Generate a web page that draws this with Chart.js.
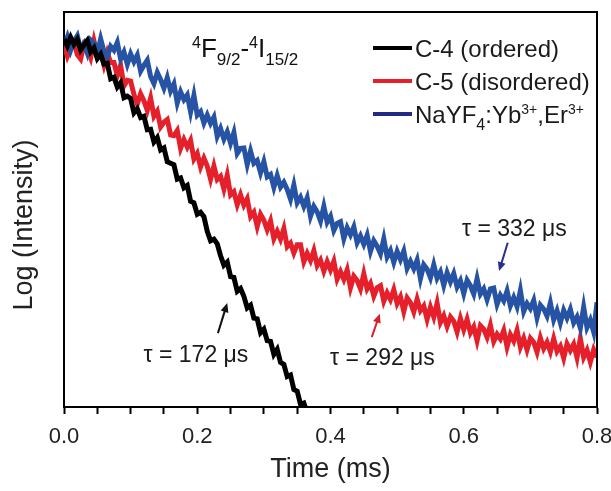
<!DOCTYPE html>
<html>
<head>
<meta charset="utf-8">
<script src="https://cdn.jsdelivr.net/npm/chart.js@4.4.1/dist/chart.umd.min.js"></script>
<style>
  html, body { margin: 0; padding: 0; background: #fff; }
  #wrap { width: 611px; height: 491px; }
</style>
</head>
<body>
<div id="wrap"><canvas id="decay" width="611" height="491"></canvas></div>
<script>
// sampling step of the decay traces, in ms (first sample at t = 0)
const step = 0.005;
const xTicks = [0.0, 0.2, 0.4, 0.6, 0.8];
const seriesNames = ['C-4 (ordered)', 'C-5 (disordered)', 'NaYF4:Yb3+,Er3+'];

// log intensity (arbitrary units, 0 = bottom of frame, 100 = top)
const c4 = [
  93.2, 91.4, 93.6, 91.8, 93.1, 90.4, 91.7, 92.8, 89.9, 90.9,
  88.2, 89.3, 86.8, 87.0, 83.1, 83.5, 81.0, 82.1, 78.3, 78.7,
  78.1, 74.5, 75.5, 73.3, 73.6, 70.2, 70.3, 67.1, 68.2, 65.1,
  65.6, 62.1, 61.7, 61.3, 57.7, 58.0, 55.5, 56.1, 52.1, 51.7,
  48.8, 49.3, 48.2, 44.5, 42.1, 42.5, 41.3, 38.3, 35.9, 36.7,
  33.0, 32.8, 29.3, 30.0, 28.0, 25.1, 25.8, 22.5, 22.3, 18.8,
  19.7, 16.8, 16.6, 13.3, 14.6, 11.3, 10.8, 7.7, 8.1, 4.4,
  4.0, 0.7, 1.0, -1.5, -3.0
];
const c5 = [
  91.6, 88.8, 90.9, 92.4, 89.2, 88.1, 91.7, 90.6, 88.4, 92.7,
  89.1, 90.1, 86.6, 89.7, 87.2, 87.2, 83.9, 86.5, 81.3, 82.7,
  82.5, 79.1, 76.7, 79.3, 77.5, 75.1, 78.2, 73.6, 74.9, 70.9,
  72.1, 72.8, 68.9, 68.7, 70.0, 65.5, 67.7, 65.8, 67.5, 62.8,
  64.2, 60.8, 63.0, 61.0, 57.7, 61.0, 57.6, 58.4, 55.2, 58.7,
  53.7, 54.5, 51.2, 53.7, 51.1, 52.7, 48.2, 49.3, 45.7, 48.8,
  47.3, 44.9, 47.1, 42.6, 44.5, 42.5, 45.2, 40.6, 41.5, 39.0,
  41.1, 41.1, 36.8, 38.9, 37.1, 39.6, 35.8, 37.2, 34.4, 36.8,
  34.7, 36.9, 32.4, 34.3, 32.3, 34.7, 30.2, 33.1, 32.0, 29.9,
  33.7, 29.9, 31.3, 28.1, 30.2, 30.7, 26.8, 28.9, 27.2, 29.7,
  26.2, 27.9, 24.2, 27.6, 26.4, 24.1, 27.3, 24.4, 25.6, 22.2,
  25.3, 22.8, 26.3, 21.4, 23.1, 20.4, 22.8, 21.7, 19.0, 22.4,
  19.6, 22.2, 18.8, 20.3, 16.8, 20.6, 19.7, 17.7, 20.7, 16.6,
  18.4, 17.2, 19.4, 15.2, 18.3, 16.7, 19.4, 15.2, 17.4, 14.5,
  17.4, 16.4, 13.9, 17.5, 14.8, 16.4, 14.0, 17.3, 14.1, 15.4,
  12.4, 16.0, 14.3, 15.9, 12.5, 17.4, 12.6, 14.4, 11.4, 14.5,
  12.6
];
const nayf = [
  91.3, 93.6, 90.3, 92.6, 94.0, 90.6, 92.0, 89.6, 92.9, 92.1,
  89.6, 93.2, 90.0, 88.6, 91.3, 90.3, 92.3, 88.1, 89.9, 86.8,
  89.4, 87.4, 89.1, 85.0, 86.5, 87.8, 83.7, 81.9, 84.7, 82.9,
  80.7, 83.4, 80.0, 81.8, 77.0, 79.8, 77.8, 79.0, 74.7, 78.9,
  73.9, 74.8, 71.9, 73.9, 71.8, 73.4, 68.5, 70.5, 67.8, 69.7,
  66.8, 69.5, 64.2, 65.5, 65.6, 61.4, 64.8, 61.7, 62.4, 59.3,
  62.1, 58.3, 58.9, 55.6, 58.6, 55.7, 56.9, 55.1, 52.6, 56.2,
  51.7, 53.1, 50.8, 53.0, 48.3, 50.8, 49.4, 47.1, 50.8, 46.8,
  48.3, 44.7, 46.5, 46.9, 42.6, 45.4, 43.6, 45.6, 41.6, 43.3,
  41.2, 43.5, 39.4, 42.1, 40.7, 38.8, 42.6, 38.0, 39.6, 36.6,
  39.4, 37.3, 39.5, 35.1, 36.9, 35.0, 37.2, 32.5, 36.0, 34.9,
  32.7, 36.0, 32.6, 34.2, 30.8, 34.0, 31.7, 33.8, 30.4, 32.0,
  28.7, 32.1, 30.7, 28.6, 32.5, 28.6, 29.9, 27.2, 29.9, 30.1,
  26.0, 28.3, 26.9, 29.4, 25.6, 27.7, 25.4, 29.5, 24.2, 26.2,
  24.9, 27.0, 22.6, 25.8, 24.8, 23.0, 26.4, 22.1, 24.4, 21.3,
  24.5, 22.5, 24.7, 21.3, 22.8, 20.0, 25.3, 20.1, 22.0, 19.0,
  26.5
];

const FONT = '"Liberation Sans", Arial, Helvetica, sans-serif';
const colBlack = '#000000';
const colRed = '#e5202a';
const colBlue = '#2653a3';

const toPoints = (vals) => vals.map((v, i) => ({ x: i * step, y: v }));

// draws a run of text pieces: [text, 'sup' | 'sub' | '']
function drawRuns(ctx, x, base, runs, size) {
  runs.forEach(([txt, kind]) => {
    let fs = size, dy = 0;
    if (kind === 'sup') { fs = Math.round(size * 0.6); dy = -size * 0.36; }
    if (kind === 'sub') { fs = Math.round(size * 0.66); dy = size * 0.3; }
    ctx.font = fs + 'px ' + FONT;
    ctx.fillText(txt, x, base + dy);
    x += ctx.measureText(txt).width;
  });
}

function arrow(ctx, x1, y1, x2, y2, color) {
  const ang = Math.atan2(y2 - y1, x2 - x1);
  const len = 9, half = 4;
  ctx.strokeStyle = color; ctx.fillStyle = color; ctx.lineWidth = 2;
  ctx.beginPath();
  ctx.moveTo(x1, y1);
  ctx.lineTo(x2 - Math.cos(ang) * len * 0.7, y2 - Math.sin(ang) * len * 0.7);
  ctx.stroke();
  ctx.beginPath();
  ctx.moveTo(x2, y2);
  ctx.lineTo(x2 - Math.cos(ang) * len - Math.sin(ang) * half, y2 - Math.sin(ang) * len + Math.cos(ang) * half);
  ctx.lineTo(x2 - Math.cos(ang) * len + Math.sin(ang) * half, y2 - Math.sin(ang) * len - Math.cos(ang) * half);
  ctx.closePath();
  ctx.fill();
}

const decorPlugin = {
  id: 'decor',
  afterDraw(chart) {
    const { ctx, chartArea: a, scales: { x, y } } = chart;
    ctx.save();

    // top and right sides of the frame
    ctx.strokeStyle = '#000';
    ctx.lineWidth = 2;
    ctx.beginPath();
    ctx.moveTo(a.left - 1, a.top);
    ctx.lineTo(a.right, a.top);
    ctx.lineTo(a.right, a.bottom + 1);
    ctx.stroke();

    // y axis title, a bit below the middle as in the original
    ctx.save();
    ctx.translate(25, 225);
    ctx.rotate(-Math.PI / 2);
    ctx.fillStyle = '#222';
    ctx.font = '27px ' + FONT;
    ctx.textAlign = 'center';
    ctx.textBaseline = 'middle';
    ctx.fillText('Log (Intensity)', 0, 0);
    ctx.restore();

    ctx.fillStyle = '#111';
    ctx.textAlign = 'left';
    ctx.textBaseline = 'alphabetic';

    // transition label
    drawRuns(ctx, 192, 57, [['4', 'sup'], ['F', ''], ['9/2', 'sub'], ['-', ''], ['4', 'sup'], ['I', ''], ['15/2', 'sub']], 26);

    // legend
    const legend = [
      { color: colBlack, runs: [[seriesNames[0], '']] },
      { color: colRed, runs: [[seriesNames[1], '']] },
      { color: '#232a82', runs: [['NaYF', ''], ['4', 'sub'], [':Yb', ''], ['3+', 'sup'], [',Er', ''], ['3+', 'sup']] }
    ];
    legend.forEach((item, i) => {
      const cy = 48 + i * 33;
      ctx.fillStyle = item.color;
      ctx.fillRect(373, cy - 2, 39, 4);
      ctx.fillStyle = '#1a1a1a';
      drawRuns(ctx, 415, cy + 8.5, item.runs, 24);
    });

    // lifetime labels with arrows (data coordinates)
    const notes = [
      { text: 'τ = 172 μs', at: [0.198, 12.9], from: [0.231, 18.7], to: [0.245, 26.3], color: '#111' },
      { text: 'τ = 292 μs', at: [0.478, 12.2], from: [0.462, 17.7], to: [0.474, 23.6], color: '#d8202b' },
      { text: 'τ = 332 μs', at: [0.676, 44.8], from: [0.666, 41.6], to: [0.653, 34.4], color: '#2a2f8c' }
    ];
    ctx.font = '23px ' + FONT;
    ctx.textAlign = 'center';
    ctx.textBaseline = 'middle';
    notes.forEach(n => {
      ctx.fillStyle = '#1a1a1a';
      ctx.fillText(n.text, x.getPixelForValue(n.at[0]), y.getPixelForValue(n.at[1]));
      arrow(ctx, x.getPixelForValue(n.from[0]), y.getPixelForValue(n.from[1]),
        x.getPixelForValue(n.to[0]), y.getPixelForValue(n.to[1]), n.color);
    });

    ctx.restore();
  }
};

new Chart(document.getElementById('decay'), {
  type: 'line',
  data: {
    datasets: [
      { label: seriesNames[0], data: toPoints(c4), borderColor: colBlack, borderWidth: 5, order: 0 },
      { label: seriesNames[2], data: toPoints(nayf), borderColor: colBlue, borderWidth: 5, order: 1 },
      { label: seriesNames[1], data: toPoints(c5), borderColor: colRed, borderWidth: 5, order: 2 }
    ]
  },
  options: {
    responsive: false,
    animation: false,
    layout: { padding: { top: 12, right: 14, left: 0, bottom: 0 } },
    elements: {
      point: { radius: 0 },
      line: { tension: 0, fill: false, borderJoinStyle: 'miter' }
    },
    plugins: {
      legend: { display: false },
      tooltip: { enabled: false }
    },
    scales: {
      x: {
        type: 'linear',
        min: 0,
        max: 0.8,
        ticks: {
          stepSize: 0.05,
          autoSkip: false,
          maxRotation: 0,
          padding: 10,
          color: '#222',
          font: { family: FONT, size: 22 },
          callback: (v) => xTicks.some(t => Math.abs(t - v) < 1e-6) ? v.toFixed(1) : ''
        },
        grid: { drawOnChartArea: false, drawTicks: true, tickLength: 7, tickWidth: 2, tickColor: '#000' },
        border: { display: true, color: '#000', width: 2 },
        title: {
          display: true,
          text: 'Time (ms)',
          color: '#222',
          font: { family: FONT, size: 27, lineHeight: 1 },
          padding: { top: 0, bottom: 8 }
        },
        afterFit: (s) => { s.height = 84; s.paddingLeft = 0; s.paddingRight = 0; }
      },
      y: {
        min: 0,
        max: 100,
        ticks: { display: false },
        grid: { drawOnChartArea: false, drawTicks: false },
        border: { display: true, color: '#000', width: 2 },
        afterFit: (s) => { s.width = 64; s.paddingTop = 0; s.paddingBottom = 0; }
      }
    }
  },
  plugins: [decorPlugin]
});
</script>
</body>
</html>
